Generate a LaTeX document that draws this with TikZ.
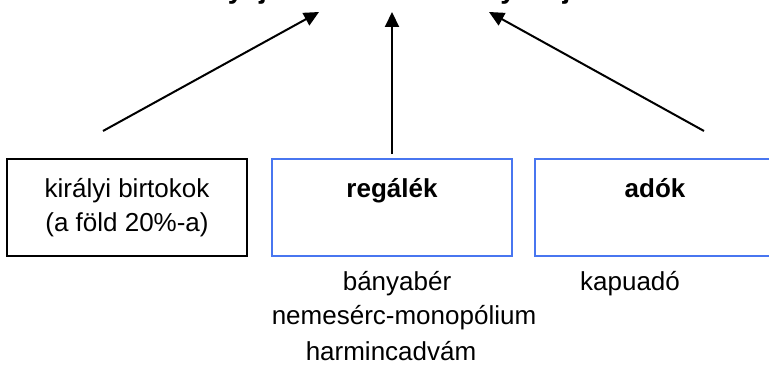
\documentclass[tikz,border=0pt]{standalone}
\usepackage{fontspec}
\setmainfont{Liberation Sans}
\usetikzlibrary{arrows.meta}
\definecolor{boxblue}{RGB}{72,118,240}
\begin{document}
\begin{tikzpicture}
      [x=.5pt,y=-.5pt
      ,font=\fontsize{13}{17}\selectfont
      ,box/.style={draw=black,line width=.9pt,minimum width=120pt,minimum height=48.5pt,inner sep=0pt,align=center}
      ,bbox/.style={box,draw=boxblue,line width=.75pt}
      ,arr/.style={line width=1pt,-{Triangle[length=7.5pt,width=7pt]}}
      ]
        \useasboundingbox (0,0) rectangle (769,367);
        % title, only its lower edge is on the page
        \node[font=\fontsize{14}{17}\selectfont\bfseries,anchor=base west,inner sep=0pt] (cim) at (142,-1) {A királyi jövedelmek a király és javai};
        % boxes
        \node[box] (birtok) at (127,207.5) {királyi birtokok\\(a föld 20\%-a)};
        \node[bbox] (regale) at (392,207.5) {\textbf{regálék}\\\vphantom{(}};
        \node[bbox] (ado) at (655,207.5) {\textbf{adók}\\\vphantom{(}};
        % texts under the boxes
        \node[anchor=base] (banya) at (397,291) {bányabér};
        \node[anchor=base] (nemes) at (404,325) {nemesérc-monopólium};
        \node[anchor=base] (harminc) at (391,360) {harmincadvám};
        \node[anchor=base] (kapu) at (630,291) {kapuadó};
        % arrows
        \coordinate (s1) at (103,131);
        \coordinate (t1) at (319,12);
        \coordinate (t2) at (392,12);
        \coordinate (s3) at (704,131);
        \coordinate (t3) at (489,12);
        \draw[arr] (s1) -- (t1);
        \draw[arr,shorten <=2pt] (regale.north) -- (t2);
        \draw[arr] (s3) -- (t3);
\end{tikzpicture}
\end{document}
